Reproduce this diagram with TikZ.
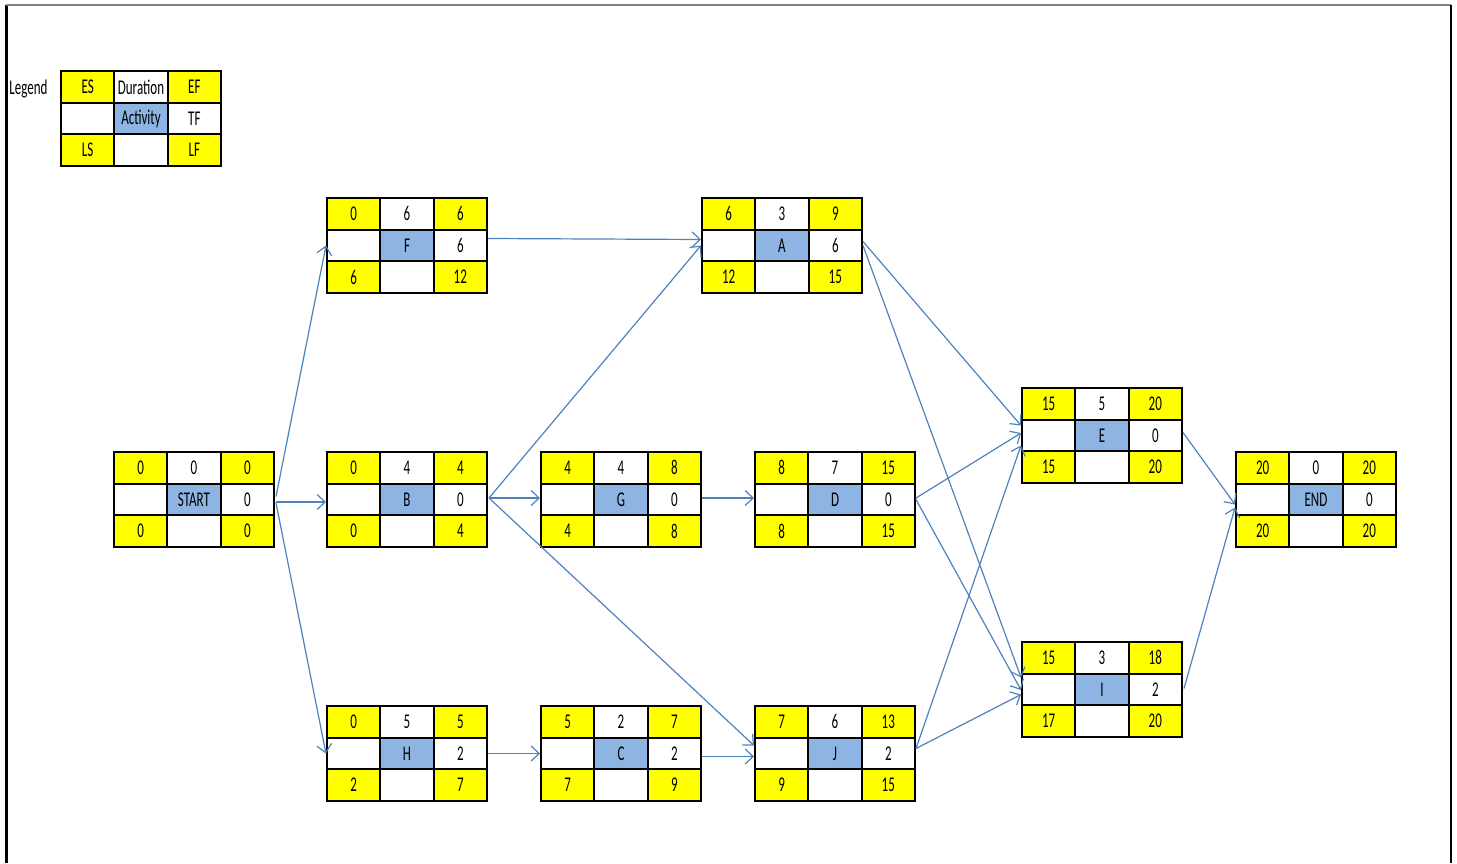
\documentclass[tikz,border=0pt]{standalone}
\usepackage{fontspec}
\setmainfont{Carlito}[FakeStretch=0.62]
\usetikzlibrary{arrows.meta,calc}
\definecolor{cellyellow}{HTML}{FFFF00}
\definecolor{cellblue}{HTML}{8DB4E2}
\definecolor{linkblue}{HTML}{4F81BD}

\tikzset{
  cell/.style={draw=black, line width=1pt, minimum width=26.67pt, minimum height=15.83pt,
    inner sep=0pt, font=\fontsize{10.5}{12}\selectfont, anchor=center},
  ycell/.style={cell, fill=cellyellow},
  wcell/.style={cell, fill=white},
  bcell/.style={cell, fill=cellblue},
  link/.style={draw=linkblue, line width=0.6pt, -{Straight Barb[length=4pt,width=7.5pt]}},
}

% activity box: name, top-left corner, ES, duration, EF, activity, TF, LS, LF
\newcommand\celltext[1]{\raisebox{-0.5pt}{#1}}
\newcommand\pertbox[9]{%
  \begin{scope}[shift={(#2)}]
    \node[ycell] (#1-es)  at (26.67,15.83) {\celltext{#3}};
    \node[wcell] (#1-dur) at (80,15.83)    {\celltext{#4}};
    \node[ycell] (#1-ef)  at (133.33,15.83) {\celltext{#5}};
    \node[wcell] (#1-l)   at (26.67,47.5)  {};
    \node[bcell] (#1-act) at (80,47.5)     {\celltext{#6}};
    \node[wcell] (#1-tf)  at (133.33,47.5) {\celltext{#7}};
    \node[ycell] (#1-ls)  at (26.67,79.17) {\celltext{#8}};
    \node[wcell] (#1-m)   at (80,79.17)    {};
    \node[ycell] (#1-lf)  at (133.33,79.17) {\celltext{#9}};
  \end{scope}}

\begin{document}
\begin{tikzpicture}[x=0.5pt,y=-0.5pt]
  \useasboundingbox (0,0) rectangle (1457,863);
  % frame
  \draw[line width=1.5pt, black] (6,863) -- (6,5);
  \draw[line width=1pt, gray] (6,5) -- (1451,5);
  \draw[line width=1.2pt, black] (1451,5) -- (1451,863);

  % legend
  \node[anchor=west, font=\fontsize{10.5}{12}\selectfont, inner sep=0pt] (legend-label) at (9,89) {Legend};
  \pertbox{key}{61,71}{ES}{Duration}{EF}{Activity}{TF}{LS}{LF}

  % activities
  \pertbox{START}{114,452}{0}{0}{0}{START}{0}{0}{0}
  \pertbox{F}{327,198}{0}{6}{6}{F}{6}{6}{12}
  \pertbox{B}{327,452}{0}{4}{4}{B}{0}{0}{4}
  \pertbox{H}{327,706}{0}{5}{5}{H}{2}{2}{7}
  \pertbox{A}{702,198}{6}{3}{9}{A}{6}{12}{15}
  \pertbox{G}{541,452}{4}{4}{8}{G}{0}{4}{8}
  \pertbox{C}{541,706}{5}{2}{7}{C}{2}{7}{9}
  \pertbox{D}{755,452}{8}{7}{15}{D}{0}{8}{15}
  \pertbox{J}{755,706}{7}{6}{13}{J}{2}{9}{15}
  \pertbox{E}{1022,388}{15}{5}{20}{E}{0}{15}{20}
  \pertbox{I}{1022,642}{15}{3}{18}{I}{2}{17}{20}
  \pertbox{END}{1236,452}{20}{0}{20}{END}{0}{20}{20}

  % dependencies
  \draw[link] ($(START-tf.east)+(1,-3)$) -- (F-l.west);
  \draw[link] ($(START-tf.east)+(1,2.5)$) -- ($(B-l.west)+(0,2.5)$);
  \draw[link] ($(START-tf.east)+(1,3.5)$) -- (H-l.west);
  \draw[link] ($(F-tf.east)+(0,-7)$) -- ($(A-l.west)+(0,-6)$);
  \draw[link] ($(B-tf.east)+(1,-1.5)$) -- (A-l.west);
  \draw[link] ($(B-tf.east)+(1,-1.5)$) -- ($(G-l.west)+(0,-1.5)$);
  \draw[link] ($(B-tf.east)+(1,-1.5)$) -- ($(J-l.west)+(0,-8)$);
  \draw[link] ($(H-tf.east)+(0,0)$) -- (C-l.west);
  \draw[link] ($(G-tf.east)+(0,-1.5)$) -- ($(D-l.west)+(0,-1.5)$);
  \draw[link] ($(C-tf.east)+(0,3)$) -- ($(J-l.west)+(0,3)$);
  \draw[link] ($(A-tf.east)+(0,-4)$) -- ($(E-l.west)+(0,-10)$);
  \draw[link] ($(A-tf.east)+(0,0)$) -- ($(I-l.west)+(0,-12)$);
  \draw[link] ($(D-tf.east)+(0,-1.5)$) -- ($(E-l.west)+(0,-2.5)$);
  \draw[link] ($(D-tf.east)+(0,0)$) -- ($(I-l.west)+(0,0.5)$);
  \draw[link] ($(J-tf.east)+(0,-5)$) -- ($(E-l.west)+(0,10)$);
  \draw[link] ($(J-tf.east)+(0,-5)$) -- ($(I-l.west)+(0,5)$);
  \draw[link] ($(E-tf.east)+(0,-3)$) -- ($(END-l.west)+(0,5)$);
  \draw[link] ($(I-tf.east)+(1,-1)$) -- ($(END-l.west)+(0,8)$);
\end{tikzpicture}
\end{document}
